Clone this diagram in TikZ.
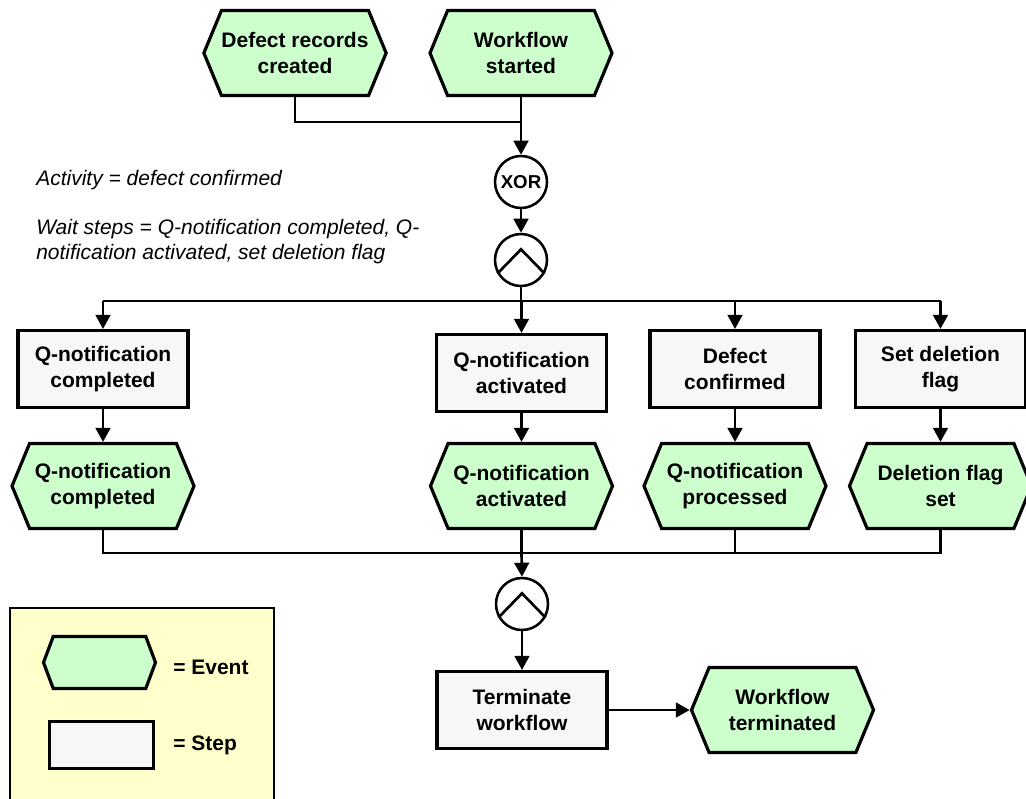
\documentclass[tikz,border=0pt]{standalone}
\usepackage{fontspec}
\setmainfont{Liberation Sans}
\usepackage{tikz}
\usetikzlibrary{shapes.symbols,arrows.meta}
\definecolor{eventgreen}{RGB}{204,255,204}
\definecolor{stepgrey}{RGB}{247,247,247}
\definecolor{legendyellow}{RGB}{255,255,204}

\begin{document}
\begin{tikzpicture}[x=0.75pt, y=-0.75pt,
    every node/.style={font=\fontsize{15.75}{19.5}\selectfont\bfseries, align=center, inner sep=0pt},
    event/.style={signal, signal to=west and east, signal pointer angle=135, draw, line width=2.4pt, fill=eventgreen, minimum width=136.5pt, minimum height=63.75pt},
    stepbox/.style={rectangle, draw, line width=2.4pt, fill=stepgrey, minimum width=127.5pt, minimum height=57.75pt},
    gate/.style={circle, draw, line width=1.9pt, minimum size=39pt},
    flow/.style={line width=2pt},
    arr/.style={flow, -{Triangle[length=10.5pt,width=11pt]}},
    note/.style={font=\fontsize{15.75}{19}\selectfont\itshape, anchor=west, align=left}]
    \useasboundingbox (0,0) rectangle (1026,799);

    \node[event] (defrec) at (295,53) {Defect records\\created};
    \node[event] (wfstart) at (521,53) {Workflow\\started};
    \coordinate (topjoin) at (521,122);
    \node[gate, font=\fontsize{14}{16}\selectfont\bfseries] (xor) at (521,182) {XOR};
    \node[gate] (and1) at (521,260) {};
    \draw[flow] (and1.210) -- ([yshift=8pt]and1.center) -- (and1.330);
    \draw[flow] (defrec.south) |- (topjoin);
    \draw[arr] (wfstart.south) -- (xor.north);
    \draw[arr] (xor.south) -- (and1.north);

    \node[note] (activity) at (36,180) {Activity = defect confirmed};
    \node[note] (waitsteps) at (36,241.5) {Wait steps = Q-notification completed, Q-\\notification activated, set deletion flag};

    \node[stepbox] (qcomp) at (103,369) {Q-notification\\completed};
    \node[stepbox] (qact) at (521.5,373) {Q-notification\\activated};
    \node[stepbox] (defconf) at (735,369) {Defect\\confirmed};
    \node[stepbox] (setflag) at (940.5,369) {Set deletion\\flag};
    \coordinate (bus1) at (521,301);
    \draw[flow] (and1.south) -- (bus1);
    \draw[flow] (qcomp.north |- bus1) -- (setflag.north |- bus1);
    \draw[arr] (qcomp.north |- bus1) -- (qcomp.north);
    \draw[arr] (qact.north |- bus1) -- (qact.north);
    \draw[arr] (defconf.north |- bus1) -- (defconf.north);
    \draw[arr] (setflag.north |- bus1) -- (setflag.north);

    \node[event] (evcomp) at (103,486) {Q-notification\\completed};
    \node[event] (evact) at (521.5,486) {Q-notification\\activated};
    \node[event] (evproc) at (735,486) {Q-notification\\processed};
    \node[event] (evflag) at (940.5,486) {Deletion flag\\set};
    \draw[arr] (qcomp.south) -- (evcomp.north);
    \draw[arr] (qact.south) -- (evact.north);
    \draw[arr] (defconf.south) -- (evproc.north);
    \draw[arr] (setflag.south) -- (evflag.north);

    \coordinate (bus2) at (521.5,553);
    \draw[flow] (evcomp.south) |- (bus2) -| (evflag.south);
    \draw[flow] (evact.south) -- (bus2);
    \draw[flow] (evproc.south) -- (evproc.south |- bus2);
    \node[gate] (and2) at (522,604) {};
    \draw[flow] (and2.210) -- ([yshift=8pt]and2.center) -- (and2.330);
    \draw[arr] (bus2) -- (and2.north);
    \node[stepbox] (term) at (522,710) {Terminate\\workflow};
    \node[event] (wfterm) at (782.5,710) {Workflow\\terminated};
    \draw[arr] (and2.south) -- (term.north);
    \draw[arr] (term.east) -- (wfterm.west);

    \draw[line width=1.9pt, fill=legendyellow] (10,608) rectangle (274,815);
    \node[event, signal pointer angle=139, minimum width=84pt, minimum height=39pt] (legevent) at (99.5,662.5) {};
    \node[anchor=west] (legeventtext) at (173,667) {= Event};
    \node[stepbox, minimum width=78pt, minimum height=35.25pt] (legstep) at (101.5,745) {};
    \node[anchor=west] (legsteptext) at (173,745) {= Step};
\end{tikzpicture}
\end{document}
